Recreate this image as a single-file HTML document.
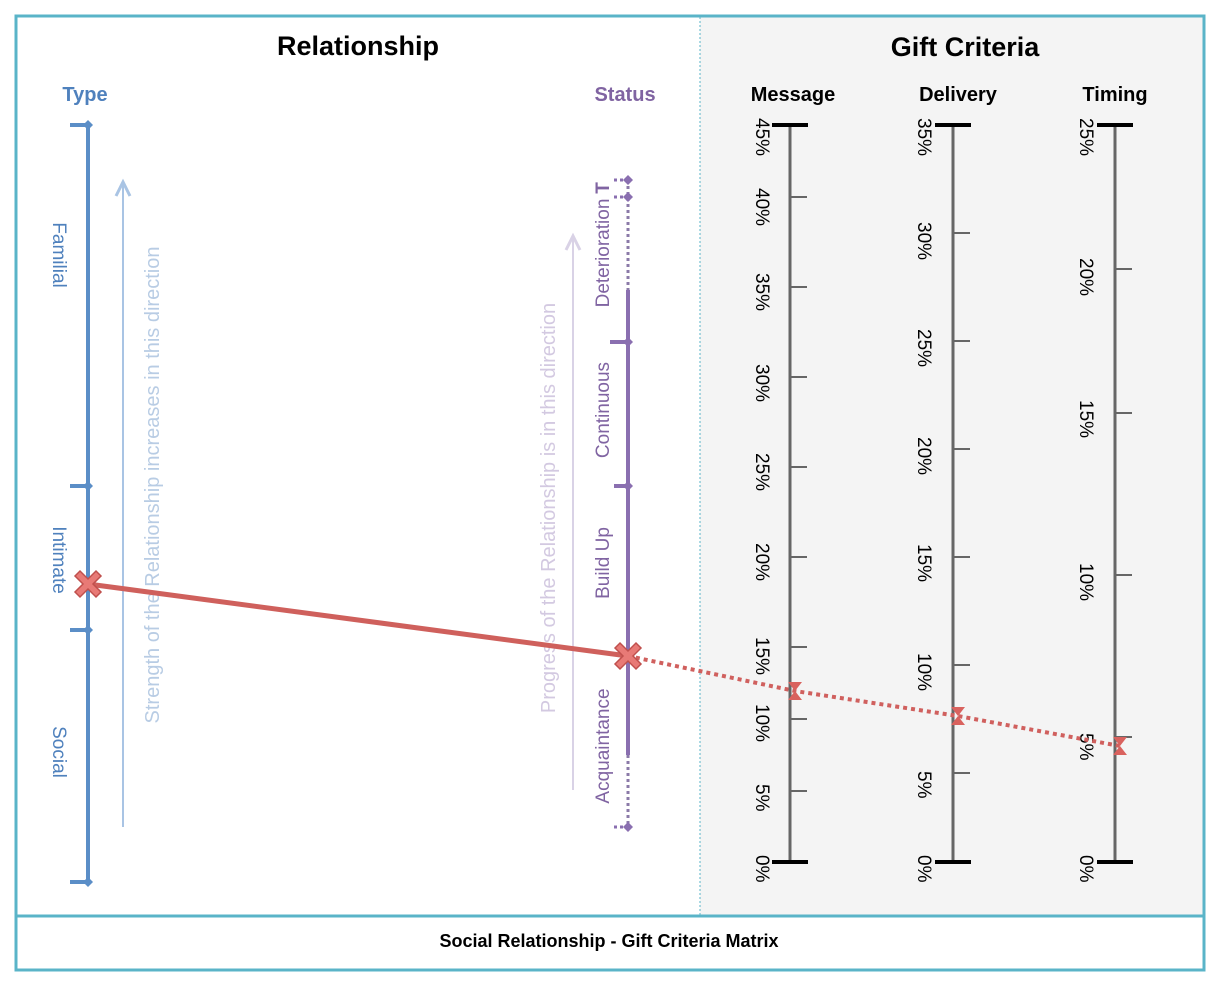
<!DOCTYPE html>
<html><head><meta charset="utf-8"><style>
html,body{margin:0;padding:0;background:#fff;width:1223px;height:996px;overflow:hidden}
svg{display:block;font-family:"Liberation Sans",sans-serif}
</style></head><body>
<svg width="1223" height="996" viewBox="0 0 1223 996" xmlns="http://www.w3.org/2000/svg">
<rect x="0" y="0" width="1223" height="996" fill="#fff"/>
<rect x="700" y="17" width="503" height="898" fill="#f4f4f4"/>
<line x1="700" y1="17" x2="700" y2="915" stroke="#5ab4c8" stroke-width="1" stroke-dasharray="2,2"/>
<rect x="16" y="16" width="1188" height="954" fill="none" stroke="#5ab4c8" stroke-width="3"/>
<line x1="16" y1="916" x2="1204" y2="916" stroke="#5ab4c8" stroke-width="3"/>
<text x="609" y="947" font-size="18" font-weight="bold" text-anchor="middle">Social Relationship - Gift Criteria Matrix</text>

<text x="358" y="55" font-size="27" font-weight="bold" text-anchor="middle">Relationship</text>
<text x="965" y="56" font-size="27" font-weight="bold" text-anchor="middle">Gift Criteria</text>
<text x="85" y="101" font-size="20" font-weight="bold" fill="#4f81bd" text-anchor="middle">Type</text>
<text x="625" y="101" font-size="20" font-weight="bold" fill="#8064a2" text-anchor="middle">Status</text>
<text x="793" y="101" font-size="20" font-weight="bold" text-anchor="middle">Message</text>
<text x="958" y="101" font-size="20" font-weight="bold" text-anchor="middle">Delivery</text>
<text x="1115" y="101" font-size="20" font-weight="bold" text-anchor="middle">Timing</text>

<g stroke="#5b8ec7" stroke-width="4" fill="#5b8ec7">
<line x1="88" y1="125" x2="88" y2="882"/>
<line x1="70" y1="125" x2="88" y2="125"/>
<line x1="70" y1="486" x2="88" y2="486"/>
<line x1="70" y1="630" x2="88" y2="630"/>
<line x1="70" y1="882" x2="88" y2="882"/>
</g>
<g fill="#5b8ec7">
<path d="M88 120l5 5-5 5-5-5z"/><path d="M88 481l5 5-5 5-5-5z"/><path d="M88 625l5 5-5 5-5-5z"/><path d="M88 877l5 5-5 5-5-5z"/>
</g>
<g font-size="19" fill="#4f81bd" text-anchor="middle">
<text transform="translate(53,255) rotate(90)">Familial</text>
<text transform="translate(53,560) rotate(90)">Intimate</text>
<text transform="translate(53,752) rotate(90)">Social</text>
</g>
<line x1="123" y1="827" x2="123" y2="182" stroke="#a9c4e4" stroke-width="2"/>
<path d="M116 196L123 182L130 196" fill="none" stroke="#a9c4e4" stroke-width="3"/>
<text transform="translate(159,485) rotate(-90)" font-size="20" fill="#b8cce4" text-anchor="middle">Strength of the Relationship increases in this direction</text>

<line x1="628" y1="180" x2="628" y2="290" stroke="#8b7aa8" stroke-width="3" stroke-dasharray="3,3"/>
<line x1="628" y1="290" x2="628" y2="755" stroke="#8a6fb0" stroke-width="4"/>
<line x1="628" y1="755" x2="628" y2="827" stroke="#8b7aa8" stroke-width="3" stroke-dasharray="3,3"/>
<g stroke="#8a6fb0" stroke-width="3">
<line x1="614" y1="180" x2="628" y2="180" stroke-dasharray="3,3"/>
<line x1="614" y1="197" x2="628" y2="197" stroke-dasharray="3,3"/>
<line x1="610" y1="342" x2="628" y2="342" stroke-width="4"/>
<line x1="614" y1="486" x2="628" y2="486" stroke-width="4"/>
<line x1="614" y1="827" x2="628" y2="827" stroke-dasharray="3,3"/>
</g>
<g fill="#8a6fb0">
<path d="M628 175l5 5-5 5-5-5z"/><path d="M628 192l5 5-5 5-5-5z"/><path d="M628 337l5 5-5 5-5-5z"/><path d="M628 481l5 5-5 5-5-5z"/><path d="M628 822l5 5-5 5-5-5z"/>
</g>
<g font-size="19" fill="#8064a2" text-anchor="middle">
<text transform="translate(609,188) rotate(-90)" font-weight="bold">T</text>
<text transform="translate(609,253) rotate(-90)">Deterioration</text>
<text transform="translate(609,410) rotate(-90)">Continuous</text>
<text transform="translate(609,563) rotate(-90)">Build Up</text>
<text transform="translate(609,746) rotate(-90)">Acquaintance</text>
</g>
<line x1="573" y1="790" x2="573" y2="237" stroke="#d9d2e6" stroke-width="2"/>
<path d="M566 250L573 236L580 250" fill="none" stroke="#d9d2e6" stroke-width="3"/>
<text transform="translate(555,508) rotate(-90)" font-size="20" fill="#d3c9e1" text-anchor="middle">Progress of the Relationship is in this direction</text>

<g stroke="#666" stroke-width="3">
<line x1="790" y1="125" x2="790" y2="862"/>
<line x1="953" y1="125" x2="953" y2="862"/>
<line x1="1115" y1="125" x2="1115" y2="862"/>
</g>
<g stroke="#666" stroke-width="2">
<line x1="790" y1="197" x2="807" y2="197"/><line x1="790" y1="287" x2="807" y2="287"/><line x1="790" y1="377" x2="807" y2="377"/><line x1="790" y1="467" x2="807" y2="467"/><line x1="790" y1="557" x2="807" y2="557"/><line x1="790" y1="647" x2="807" y2="647"/><line x1="790" y1="719" x2="807" y2="719"/><line x1="790" y1="791" x2="807" y2="791"/>
<line x1="953" y1="233" x2="970" y2="233"/><line x1="953" y1="341" x2="970" y2="341"/><line x1="953" y1="449" x2="970" y2="449"/><line x1="953" y1="557" x2="970" y2="557"/><line x1="953" y1="665" x2="970" y2="665"/><line x1="953" y1="773" x2="970" y2="773"/>
<line x1="1115" y1="269" x2="1132" y2="269"/><line x1="1115" y1="413" x2="1132" y2="413"/><line x1="1115" y1="575" x2="1132" y2="575"/><line x1="1115" y1="737" x2="1132" y2="737"/>
</g>
<g stroke="#000" stroke-width="4">
<line x1="772" y1="125" x2="808" y2="125"/><line x1="772" y1="862" x2="808" y2="862"/>
<line x1="935" y1="125" x2="971" y2="125"/><line x1="935" y1="862" x2="971" y2="862"/>
<line x1="1097" y1="125" x2="1133" y2="125"/><line x1="1097" y1="862" x2="1133" y2="862"/>
</g>
<g font-size="19" fill="#000">
<text transform="translate(756,118) rotate(90)">45%</text>
<text transform="translate(756,188) rotate(90)">40%</text>
<text transform="translate(756,273) rotate(90)">35%</text>
<text transform="translate(756,364) rotate(90)">30%</text>
<text transform="translate(756,453) rotate(90)">25%</text>
<text transform="translate(756,543) rotate(90)">20%</text>
<text transform="translate(756,637) rotate(90)">15%</text>
<text transform="translate(756,704) rotate(90)">10%</text>
<text transform="translate(756,784) rotate(90)">5%</text>
<text transform="translate(756,855) rotate(90)">0%</text>

<text transform="translate(918,118) rotate(90)">35%</text>
<text transform="translate(918,222) rotate(90)">30%</text>
<text transform="translate(918,329) rotate(90)">25%</text>
<text transform="translate(918,437) rotate(90)">20%</text>
<text transform="translate(918,544) rotate(90)">15%</text>
<text transform="translate(918,653) rotate(90)">10%</text>
<text transform="translate(918,771) rotate(90)">5%</text>
<text transform="translate(918,855) rotate(90)">0%</text>

<text transform="translate(1080,118) rotate(90)">25%</text>
<text transform="translate(1080,258) rotate(90)">20%</text>
<text transform="translate(1080,400) rotate(90)">15%</text>
<text transform="translate(1080,563) rotate(90)">10%</text>
<text transform="translate(1080,733) rotate(90)">5%</text>
<text transform="translate(1080,855) rotate(90)">0%</text>
</g>

<line x1="88" y1="584" x2="628" y2="656" stroke="#cf605c" stroke-width="5"/>
<polyline points="628,656 795,691 958,716 1120,746" fill="none" stroke="#d0605e" stroke-width="4" stroke-dasharray="4,4"/>
<g fill="#e87a76" stroke="#c0504d" stroke-width="1.5">
<path transform="translate(88,584)" d="M-13-8l5-5 8 8 8-8 5 5-8 8 8 8-5 5-8-8-8 8-5-5 8-8z"/>
<path transform="translate(628,656)" d="M-13-8l5-5 8 8 8-8 5 5-8 8 8 8-5 5-8-8-8 8-5-5 8-8z"/>
</g>
<g fill="#d9625e">
<path d="M788 682h14l-7 9 7 9h-14l7-9z"/>
<path d="M951 707h14l-7 9 7 9h-14l7-9z"/>
<path d="M1113 737h14l-7 9 7 9h-14l7-9z"/>
</g>
</svg>
</body></html>
